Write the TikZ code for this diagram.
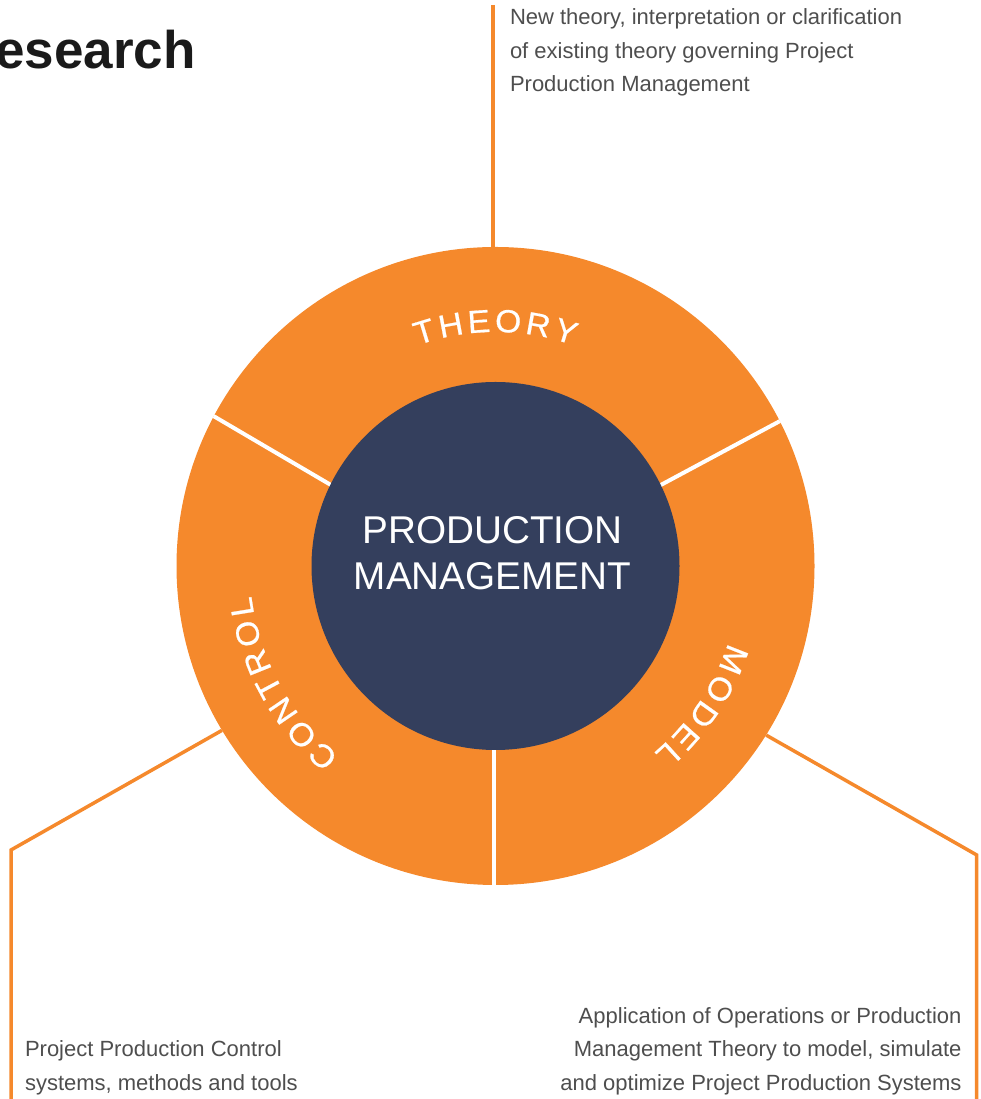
\documentclass[tikz,border=0pt]{standalone}
\usepackage{fontspec}
\setmainfont{Liberation Sans}
\newfontfamily\ringfont[FakeBold=0.6]{Liberation Sans}
\usetikzlibrary{calc}
\definecolor{ppmorange}{RGB}{245,137,44}
\definecolor{ppmnavy}{RGB}{52,63,93}
\definecolor{ppmgray}{RGB}{78,78,78}
\definecolor{ppmtitle}{RGB}{26,26,26}
\tikzset{
  conn/.style={draw=ppmorange, line width=3.5pt},
  divider/.style={draw=white, line width=4pt},
  desc/.style={inner sep=0pt, outer sep=0pt, text=ppmgray, font=\fontsize{22}{33.4}\selectfont},
  arcletter/.style={inner sep=0pt, outer sep=0pt, anchor=base, text=white},
}
\newcommand\ringsize{32}
\newcommand\ringstretch{1.05}
% #1 name prefix, #2 centre angle, #3 baseline radius, #4 tracking, #5 letter/em-width list
\newcommand\arcword[5]{%
  \xdef\awtot{0}%
  \foreach \ch/\w in {#5}{\pgfmathsetmacro\awt{\awtot+\w*\ringsize*\ringstretch+#4}\xdef\awtot{\awt}}%
  \pgfmathsetmacro\awstart{#2+((\awtot-#4)/2)/#3*180/pi}%
  \xdef\awstart{\awstart}%
  \xdef\awpos{0}%
  \foreach \ch/\w [count=\i] in {#5}{%
    \pgfmathsetmacro\awa{\awstart-(\awpos+\w*\ringsize*\ringstretch/2)/#3*180/pi}%
    \node[arcletter, rotate=\awa-90, xscale=\ringstretch] (#1\i) at ($(ctr)+(\awa:#3)$) {\ringfont\fontsize{\ringsize}{\ringsize}\selectfont\ch};
    \pgfmathsetmacro\awp{\awpos+\w*\ringsize*\ringstretch+#4}\xdef\awpos{\awp}%
  }%
}
\begin{document}
\begin{tikzpicture}[x=1pt,y=1pt]
\useasboundingbox (0,0) rectangle (980,1099);
\clip (0,0) rectangle (980,1099);
\coordinate (ctr) at (495.5,533);

% title (cropped)
\node[anchor=base east, inner sep=0pt, text=ppmtitle, font=\fontsize{53}{53}\selectfont\bfseries] (title) at (196,1030.7) {esearch};

% outer ring
\node[circle, fill=ppmorange, minimum size=638pt, inner sep=0pt] (ring) at (ctr) {};

% connectors
\coordinate (topend) at (493,1094);
\coordinate (lbend) at (11,249);
\coordinate (lend) at (11,0);
\coordinate (rbend) at (976.7,244);
\coordinate (rend) at (976.7,0);
\draw[conn] (topend) -- (topend |- ring.north);
\draw[conn, line join=miter] (ring.211) -- (lbend) -- (lend);
\draw[conn, line join=miter] (ring.328) -- (rbend) -- (rend);

% dividers
\draw[divider] (ring.152.4) -- ($(ctr)+(154:175)$);
\draw[divider] (ring.27.6) -- ($(ctr)+(26:175)$);
\draw[divider] ([xshift=-1.5pt]ring.south) -- ++(0,140);

% core
\node[circle, fill=ppmnavy, minimum size=368pt, inner sep=0pt] (core) at (ctr) {};
\node[anchor=base, inner sep=0pt, text=white, align=center, font=\fontsize{38.7}{45.7}\selectfont] (pm) at (492.5,509.8) {PRODUCTION\\MANAGEMENT};

% ring labels
\arcword{th}{90}{234}{3.8}{T/0.611,H/0.722,E/0.667,O/0.778,R/0.722,Y/0.667}
\arcword{mo}{326}{245}{3.8}{M/0.833,O/0.778,D/0.722,E/0.667,L/0.556}
\arcword{co}{208.8}{246}{3.8}{C/0.722,O/0.778,N/0.722,T/0.611,R/0.722,O/0.778,L/0.556}

% descriptions
\node[desc, anchor=base west, align=left] (thdesc) at (510,1007.3) {New theory, interpretation or clarification\\of existing theory governing Project\\Production Management};
\node[desc, anchor=base west, align=left] (codesc) at (25,9) {Project Production Control\\systems, methods and tools};
\node[desc, anchor=base east, align=right] (modesc) at (961.5,9) {Application of Operations or Production\\Management Theory to model, simulate\\and optimize Project Production Systems};
\end{tikzpicture}
\end{document}
